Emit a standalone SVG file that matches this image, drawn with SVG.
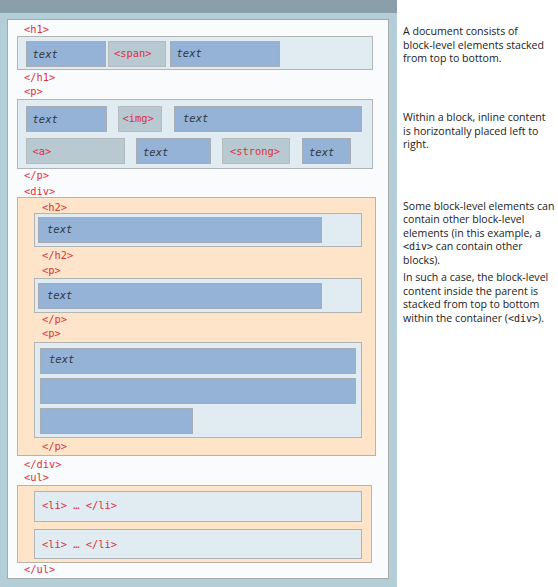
<svg xmlns="http://www.w3.org/2000/svg" width="558" height="587" viewBox="0 0 558 587">
<style>
.tag{font-family:"DejaVu Sans Mono","Liberation Mono",monospace;font-size:10.4px;fill:#d8323e}
.tx{font-family:"DejaVu Sans Mono","Liberation Mono",monospace;font-size:10.5px;font-style:italic;fill:#333844}
.blk{fill:#e1ebf2;stroke:#b2b4b6;stroke-width:1}
.div{fill:#fee5c9;stroke:#b9b3ab;stroke-width:1}
.bl{fill:#94b3d7;stroke:#a9adb2;stroke-width:1}
.gr{fill:#b8c9d2;stroke:#b5babd;stroke-width:1}
.note{font-family:"Open Sans","Liberation Sans",sans-serif;font-size:10.6px;fill:#222}
.mono{font-family:"DejaVu Sans Mono","Liberation Mono",monospace;font-size:10px}
</style>
<rect x="0" y="0" width="558" height="587" fill="#ffffff"/>
<rect x="0" y="0" width="397" height="587" fill="#b4ced7"/>
<rect x="0" y="0" width="397" height="13" fill="#8a9fa9"/>
<rect x="7.5" y="19.5" width="381" height="559" fill="#fafbfd" stroke="#a3abaf"/>

<g id="h1">
<text class="tag" x="24" y="33">&lt;h1&gt;</text>
<rect class="blk" x="17.5" y="36.5" width="355" height="33"/>
<rect class="bl" x="26.5" y="41.5" width="79" height="25"/>
<text class="tx" x="32.5" y="57.5">text</text>
<rect class="gr" x="108.5" y="41.5" width="57" height="25"/>
<text class="tag" x="114" y="57">&lt;span&gt;</text>
<rect class="bl" x="170.5" y="41.5" width="109" height="25"/>
<text class="tx" x="176.5" y="56.5">text</text>
<text class="tag" x="24" y="80.5">&lt;/h1&gt;</text>
</g>

<g id="p1">
<text class="tag" x="24" y="95">&lt;p&gt;</text>
<rect class="blk" x="17.5" y="99.5" width="355" height="69"/>
<rect class="bl" x="26.5" y="106.5" width="80" height="25"/>
<text class="tx" x="32.5" y="123">text</text>
<rect class="gr" x="118.5" y="106.5" width="43" height="25"/>
<text class="tag" x="122.5" y="122">&lt;img&gt;</text>
<rect class="bl" x="174.5" y="106.5" width="187" height="25"/>
<text class="tx" x="183" y="121.5">text</text>
<rect class="gr" x="26.5" y="138.5" width="98" height="25"/>
<text class="tag" x="32.5" y="155">&lt;a&gt;</text>
<rect class="bl" x="136.5" y="138.5" width="74" height="25"/>
<text class="tx" x="143" y="156">text</text>
<rect class="gr" x="222.5" y="138.5" width="67" height="25"/>
<text class="tag" x="230" y="155">&lt;strong&gt;</text>
<rect class="bl" x="302.5" y="138.5" width="48" height="25"/>
<text class="tx" x="309" y="156">text</text>
<text class="tag" x="24" y="179">&lt;/p&gt;</text>
</g>

<g id="div">
<text class="tag" x="24" y="195">&lt;div&gt;</text>
<rect class="div" x="17.5" y="197.5" width="358" height="258"/>
<g id="h2">
<text class="tag" x="42" y="210.5">&lt;h2&gt;</text>
<rect class="blk" x="34.5" y="213.5" width="327" height="33"/>
<rect class="bl" x="38.5" y="217.5" width="283" height="25"/>
<text class="tx" x="47" y="233">text</text>
<text class="tag" x="42" y="259">&lt;/h2&gt;</text>
</g>
<g id="p2">
<text class="tag" x="42" y="274">&lt;p&gt;</text>
<rect class="blk" x="34.5" y="278.5" width="327" height="34"/>
<rect class="bl" x="38.5" y="283.5" width="283" height="25"/>
<text class="tx" x="47" y="299">text</text>
<text class="tag" x="42" y="323">&lt;/p&gt;</text>
</g>
<g id="p3">
<text class="tag" x="42" y="337">&lt;p&gt;</text>
<rect class="blk" x="34.5" y="342.5" width="327" height="95"/>
<rect class="bl" x="40.5" y="348.5" width="315" height="25"/>
<text class="tx" x="49" y="363">text</text>
<rect class="bl" x="40.5" y="378.5" width="315" height="25"/>
<rect class="bl" x="40.5" y="408.5" width="152" height="25"/>
<text class="tag" x="42" y="450">&lt;/p&gt;</text>
</g>
<text class="tag" x="24" y="467.5">&lt;/div&gt;</text>
</g>

<g id="ul">
<text class="tag" x="24" y="480.5">&lt;ul&gt;</text>
<rect class="div" x="17.5" y="485.5" width="354" height="77"/>
<g id="li1">
<rect class="blk" x="34.5" y="491.5" width="327" height="30"/>
<text class="tag" x="42" y="508.5">&lt;li&gt; … &lt;/li&gt;</text>
</g>
<g id="li2">
<rect class="blk" x="34.5" y="529.5" width="327" height="29"/>
<text class="tag" x="42" y="548">&lt;li&gt; … &lt;/li&gt;</text>
</g>
<text class="tag" x="24" y="573">&lt;/ul&gt;</text>
</g>

<g id="notes">
<text class="note" x="403" y="35">A document consists of</text>
<text class="note" x="403" y="48.7">block-level elements stacked</text>
<text class="note" x="403" y="62.4">from top to bottom.</text>
<text class="note" x="403" y="121">Within a block, inline content</text>
<text class="note" x="403" y="134.6">is horizontally placed left to</text>
<text class="note" x="403" y="148.2">right.</text>
<text class="note" x="403" y="209.5">Some block-level elements can</text>
<text class="note" x="403" y="223">contain other block-level</text>
<text class="note" x="403" y="236.5">elements (in this example, a</text>
<text class="note" x="403" y="250"><tspan class="mono">&lt;div&gt;</tspan> can contain other</text>
<text class="note" x="403" y="263.5">blocks).</text>
<text class="note" x="403" y="281">In such a case, the block-level</text>
<text class="note" x="403" y="294.6">content inside the parent is</text>
<text class="note" x="403" y="308.2">stacked from top to bottom</text>
<text class="note" x="403" y="321.8">within the container (<tspan class="mono">&lt;div&gt;</tspan>).</text>
</g>
</svg>
